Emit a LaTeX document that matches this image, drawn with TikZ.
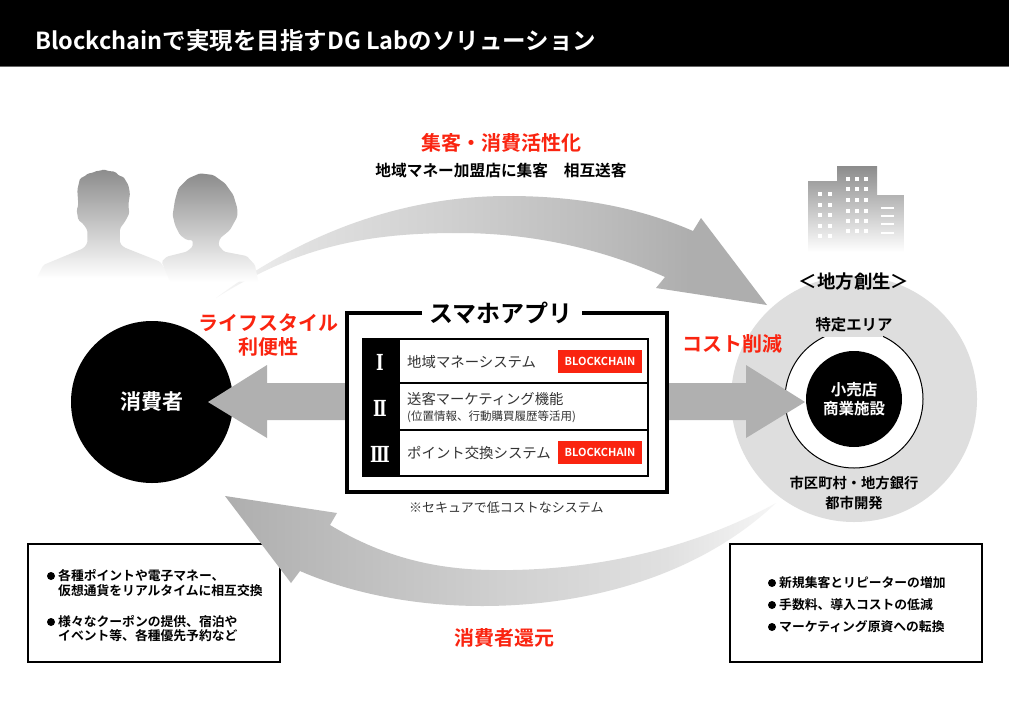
\documentclass[tikz,border=0pt]{standalone}
\usepackage{fontspec}
\setmainfont{Noto Sans CJK JP}[BoldFont={Noto Sans CJK JP Bold}]
\newfontfamily\numfont{DejaVu Serif}[BoldFont={DejaVu Serif Bold}]
\definecolor{accentred}{HTML}{FA2410}
\definecolor{arrowgray}{HTML}{B0B0B0}
\definecolor{areagray}{HTML}{DEDEDE}
\definecolor{bodygray}{HTML}{333333}
\definecolor{figtop}{HTML}{8C8C8C}
\definecolor{sa}{HTML}{F6F6F6}
\definecolor{sb}{HTML}{E0E0E0}
\definecolor{sc}{HTML}{D0D0D0}
\definecolor{sd}{HTML}{BCBCBC}
\definecolor{se}{HTML}{AEAEAE}
\pgfdeclarehorizontalshading{topflow}{100bp}{color(0bp)=(sa); color(25bp)=(sa); color(33bp)=(sb); color(46bp)=(sc); color(60bp)=(sd); color(68bp)=(se); color(100bp)=(se)}
\pgfdeclarehorizontalshading{bottomflow}{100bp}{color(0bp)=(se); color(25bp)=(se); color(35bp)=(sd); color(50bp)=(sc); color(65bp)=(sb); color(75bp)=(sa); color(100bp)=(sa)}
\tikzset{
  redlbl/.style={inner sep=0pt, align=center, text=accentred, font=\fontsize{#1}{24}\selectfont\bfseries},
  blacklbl/.style={inner sep=0pt, align=center, font=\fontsize{#1}{#1}\selectfont\bfseries},
  rowtext/.style={inner sep=0pt, anchor=west, text=bodygray, font=\fontsize{#1}{#1}\selectfont},
  boxtext/.style={inner sep=0pt, anchor=west, font=\fontsize{12.8}{13}\selectfont\bfseries},
  chainbadge/.style={fill=accentred, text=white, inner sep=0pt, minimum width=84pt, minimum height=23pt, font=\fontsize{11}{11}\selectfont\bfseries},
  numeral/.style={inner sep=0pt, text=white, font=\fontsize{17}{17}\selectfont\numfont\bfseries},
  framebox/.style={draw=black, line width=3.2pt, fill=white},
  infobox/.style={draw=black, line width=2.5pt, fill=white},
  figure/.style={top color=figtop, bottom color=white, draw=none, rounded corners=1.5pt},
  bullet/.style={circle, fill=black, inner sep=0pt, minimum size=8pt},
  win/.style={fill=white, draw=none},
}
\begin{document}
\begin{tikzpicture}[x=1pt,y=-1pt]
\useasboundingbox (0,0) rectangle (1009,704);
\fill[white] (0,0) rectangle (1009,704);
% header
\fill[black] (0,0) rectangle (1009,66);
\fill[black!60] (0,66) rectangle (1009,67);
\node[inner sep=0pt, anchor=west, text=white, font=\fontsize{23.5}{26}\selectfont\bfseries] (title) at (35,41) {Blockchainで実現を目指すDG Labのソリューション};
% top flow arrow
\shade[shading=topflow] (216,298) .. controls (300,235) and (400,196) .. (508,196) .. controls (580,196) and (640,208) .. (693,231) -- (701,218) -- (767,305) -- (656,288) -- (665,277) .. controls (600,248) and (530,233) .. (458,233) .. controls (370,233) and (300,245) .. (216,298) -- cycle;
% people
\begin{scope}[shift={(0,150)},x=.33333pt,y=-.33333pt]
\shade[figure] (110,385) -- (130,345) -- (250,295) -- (262,280) -- (262,240) -- (250,222) -- (235,210) -- (230,180) -- (235,165) -- (232,120) -- (240,85) -- (252,80) -- (265,70) -- (280,68) -- (290,62) -- (300,63) -- (310,58) -- (325,63) -- (345,65) -- (358,78) -- (370,80) -- (385,105) -- (390,130) -- (385,165) -- (388,190) -- (375,215) -- (360,235) -- (360,280) -- (372,292) -- (480,335) -- (515,385) -- cycle;
\shade[figure] (485,335) -- (500,320) -- (560,305) -- (578,290) -- (578,270) -- (560,270) -- (540,255) -- (525,225) -- (518,195) -- (525,150) -- (535,115) -- (565,85) -- (600,70) -- (640,75) -- (675,100) -- (700,135) -- (712,175) -- (712,200) -- (690,240) -- (660,265) -- (655,285) -- (672,305) -- (740,318) -- (765,345) -- (775,395) -- (510,395) -- cycle;
\end{scope}
% buildings
\shade[top color=figtop, bottom color=white] (808,252) -- (808,181) -- (837,181) -- (837,166) -- (877,166) -- (877,195) -- (904,195) -- (904,252) -- cycle;
\foreach \wx in {820,830}\foreach \wy in {194,205,215,226,236}{\fill[win] (\wx-2,\wy-2.2) rectangle ++(4,4.4);}
\foreach \wx in {848,857,866}\foreach \wy in {179,189,200,211,221,231}{\fill[win] (\wx-2,\wy-2.2) rectangle ++(4,4.4);}
\foreach \wy in {208,216,224,233}{\fill[win] (881,\wy-1) rectangle (894,\wy+1);}
% region circle
\node[circle, fill=areagray, minimum size=246pt, inner sep=0pt] (region) at (854,399) {};
\node[circle, fill=white, draw=black, line width=1pt, minimum size=138pt, inner sep=0pt] (ring) at (854,399) {};
\fill[areagray] (823,318) rectangle (883,337);
\node[circle, fill=black, minimum size=96pt, inner sep=0pt, text=white, align=center, font=\fontsize{15.5}{19}\selectfont\bfseries] (shop) at (854,399) {小売店\\商業施設};
\node[blacklbl=18.4] (regionlbl) at (854,282) {＜地方創生＞};
\node[blacklbl=15.4] (arealbl) at (854,325) {特定エリア};
\node[inner sep=0pt, align=center, font=\fontsize{14.3}{20}\selectfont\bfseries] (citylbl) at (854,493) {市区町村・地方銀行\\都市開発};
% consumer
\node[circle, fill=black, minimum size=162pt, inner sep=0pt, text=white, font=\fontsize{21}{24}\selectfont\bfseries] (consumer) at (152,402) {消費者};
% horizontal arrows
\fill[arrowgray] (350,383) -- (267,383) -- (267,365) -- (208,402) -- (267,438) -- (267,420) -- (350,420) -- cycle;
\fill[arrowgray] (665,383) -- (746,383) -- (746,365) -- (805,402) -- (746,438) -- (746,420) -- (665,420) -- cycle;
% app frame
\draw[framebox] (422,313) -- (347,313) -- (347,492) -- (667,492) -- (667,313) -- (582,313);
\node[inner sep=0pt, font=\fontsize{24}{26}\selectfont\bfseries] (apptitle) at (501,313) {スマホアプリ};
\fill[black] (362,338) rectangle (399,477);
\draw[black, line width=2.4pt, fill=white] (399,339) rectangle (648,476);
\draw[black, line width=2.4pt] (399,383) -- (648,383) (399,430) -- (648,430);
\node[numeral] (numa) at (380,362) {\scalebox{.95}[1.3]{Ⅰ}};
\node[numeral] (numb) at (380,408) {\scalebox{.95}[1.3]{Ⅱ}};
\node[numeral] (numc) at (380,454) {\scalebox{.95}[1.3]{Ⅲ}};
\node[rowtext=14.4] (rowa) at (407,362) {地域マネーシステム};
\node[rowtext=14.3] (rowb) at (407,399) {送客マーケティング機能};
\node[rowtext=11.5] (rowbsub) at (407,417) {(位置情報、行動購買履歴等活用)};
\node[rowtext=14.4] (rowc) at (407,453) {ポイント交換システム};
\node[chainbadge] (chaina) at (600,361.5) {BLOCKCHAIN};
\node[chainbadge] (chainb) at (600,452.5) {BLOCKCHAIN};
\node[rowtext=13] (secure) at (409,508) {※セキュアで低コストなシステム};
% info boxes
\draw[infobox] (28,544) rectangle (280,662);
\draw[infobox] (730,544) rectangle (982,662);
\node[bullet] (ba) at (51,576) {};
\node[boxtext] (ta) at (58,576) {各種ポイントや電子マネー、};
\node[boxtext] (tb) at (58,591) {仮想通貨をリアルタイムに相互交換};
\node[bullet] (bb) at (51,622) {};
\node[boxtext] (tc) at (58,622) {様々なクーポンの提供、宿泊や};
\node[boxtext] (td) at (58,636) {イベント等、各種優先予約など};
\node[bullet] (bc) at (772,583) {};
\node[boxtext] (te) at (779,583) {新規集客とリピーターの増加};
\node[bullet] (bd) at (772,605) {};
\node[boxtext] (tf) at (779,605) {手数料、導入コストの低減};
\node[bullet] (be) at (772,627) {};
\node[boxtext] (tg) at (779,627) {マーケティング原資への転換};
% bottom flow arrow
\shade[shading=bottomflow] (776,503) .. controls (700,575) and (590,606) .. (482,606) .. controls (420,606) and (355,595) .. (300,571) -- (291,583) -- (225,496) -- (337,513) -- (330,525) .. controls (380,555) and (430,569) .. (490,570) .. controls (600,572) and (700,545) .. (776,503) -- cycle;
% labels
\node[redlbl=20] (activate) at (501,143) {集客・消費活性化};
\node[blacklbl=15.7] (mutual) at (501,171) {地域マネー加盟店に集客　相互送客};
\node[redlbl=20] (lifestyle) at (268,335) {ライフスタイル\\利便性};
\node[redlbl=20] (costcut) at (732,344) {コスト削減};
\node[redlbl=20] (giveback) at (504,638) {消費者還元};
\end{tikzpicture}
\end{document}
